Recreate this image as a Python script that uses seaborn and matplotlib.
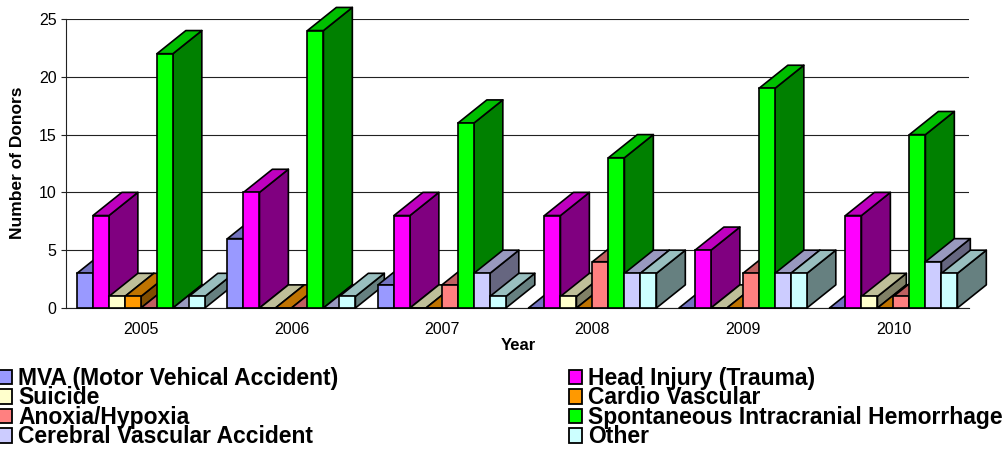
import numpy as np
import pandas as pd
import seaborn as sns
import matplotlib
matplotlib.use("Agg")
import matplotlib.pyplot as plt
from matplotlib.patches import Patch, Polygon
from matplotlib.colors import to_rgb

years = ["2005", "2006", "2007", "2008", "2009", "2010"]
mva = [3, 6, 2, 0, 0, 0]
head_injury = [8, 10, 8, 8, 5, 8]
suicide = [1, 0, 0, 1, 0, 1]
cardio = [1, 0, 0, 0, 0, 0]
anoxia = [0, 0, 2, 4, 3, 1]
spontaneous = [22, 24, 16, 13, 19, 15]
cerebral = [0, 0, 3, 3, 3, 4]
other = [1, 1, 1, 3, 3, 3]

names = ["MVA (Motor Vehical Accident)", "Head Injury (Trauma)", "Suicide", "Cardio Vascular",
         "Anoxia/Hypoxia", "Spontaneous Intracranial Hemorrhage", "Cerebral Vascular Accident", "Other"]
series = [mva, head_injury, suicide, cardio, anoxia, spontaneous, cerebral, other]
colors = ["#9999FF", "#FF00FF", "#FFFFCC", "#FF9900", "#FF8080", "#00FF00", "#CCCCFF", "#CCFFFF"]

df = pd.DataFrame([(y, n, v) for n, s in zip(names, series) for y, v in zip(years, s)],
                  columns=["Year", "Cause", "Donors"])

sns.set_style("white")
plt.rcParams["font.family"] = ["Liberation Sans", "DejaVu Sans"]
plt.rcParams["text.color"] = "black"
plt.rcParams["axes.labelcolor"] = "black"
plt.rcParams["xtick.labelcolor"] = "black"
plt.rcParams["ytick.labelcolor"] = "black"

W, H = 1003, 450
AL, AW = 65.7, 903.0
fig = plt.figure(figsize=(W / 100, H / 100), dpi=100)
ax = fig.add_axes([AL / W, 1 - 308 / H, AW / W, 289 / H])

sns.barplot(data=df, x="Year", y="Donors", hue="Cause", hue_order=names, palette=colors,
            order=years, width=0.85, gap=0, saturation=1, edgecolor="black", linewidth=1.2,
            legend=False, ax=ax)
ax.set_xlim(-0.5, 5.5)
ax.set_ylim(0, 25)

DX, DY = 0.192, 2.0
bars = sorted([p for p in ax.patches], key=lambda p: p.get_x())
for i, bar in enumerate(bars):
    z = 3 + i * 0.01
    x0, w, h = bar.get_x(), bar.get_width(), bar.get_height()
    rgb = np.array(to_rgb(bar.get_facecolor()))
    top = [(x0, h), (x0 + w, h), (x0 + w + DX, h + DY), (x0 + DX, h + DY)]
    side = [(x0 + w, 0), (x0 + w + DX, DY), (x0 + w + DX, h + DY), (x0 + w, h)]
    ax.add_patch(Polygon(side, closed=True, fc=rgb * 0.5, ec="black", lw=1.2, zorder=z,
                         clip_on=False, joinstyle="round"))
    ax.add_patch(Polygon(top, closed=True, fc=rgb * 0.75, ec="black", lw=1.2, zorder=z,
                         clip_on=False, joinstyle="round"))
    bar.set_zorder(z + 0.001)
    bar.set_clip_on(False)

ax.set_yticks([0, 5, 10, 15, 20, 25])
ax.yaxis.grid(True, color="#222222", lw=0.8, zorder=1)
ax.xaxis.grid(False)
ax.set_axisbelow(True)
for s in ("top", "right"):
    ax.spines[s].set_visible(False)
for s in ("left", "bottom"):
    ax.spines[s].set_color("#222222")
    ax.spines[s].set_linewidth(0.8)
    ax.spines[s].set_zorder(2)
ax.tick_params(axis="y", length=3.6, width=0.8, color="#222222", labelsize=11.5, pad=3, left=True)
ax.tick_params(axis="x", length=0, labelsize=11.5, pad=10)
ax.set_xlabel("Year", fontweight="bold", fontsize=12)
ax.xaxis.set_label_coords((518 - AL) / AW, -(345.5 - 308) / 289, transform=ax.transAxes)
ax.xaxis.label.set_va("center")
ax.set_ylabel("Number of Donors", fontweight="bold", fontsize=12.5)
ax.yaxis.set_label_coords((18 - AL) / AW, (308 - 163) / 289, transform=ax.transAxes)
ax.yaxis.label.set_va("center")

col1 = [0, 2, 4, 6]
col2 = [1, 3, 5, 7]
handles = [Patch(fc=colors[i], ec="black", lw=1.3, label=names[i]) for i in col1 + col2]
fig.legend(handles=handles, ncol=2, loc="upper left", bbox_to_anchor=(-2 / W, 1 - 367 / H),
           bbox_transform=fig.transFigure, frameon=False, borderpad=0, borderaxespad=0,
           prop={"weight": "bold", "size": 16.5}, labelspacing=-0.155, handlelength=0.61,
           handleheight=0.6, handletextpad=0.26, columnspacing=10.05)

fig.savefig("out.png", dpi=100)
